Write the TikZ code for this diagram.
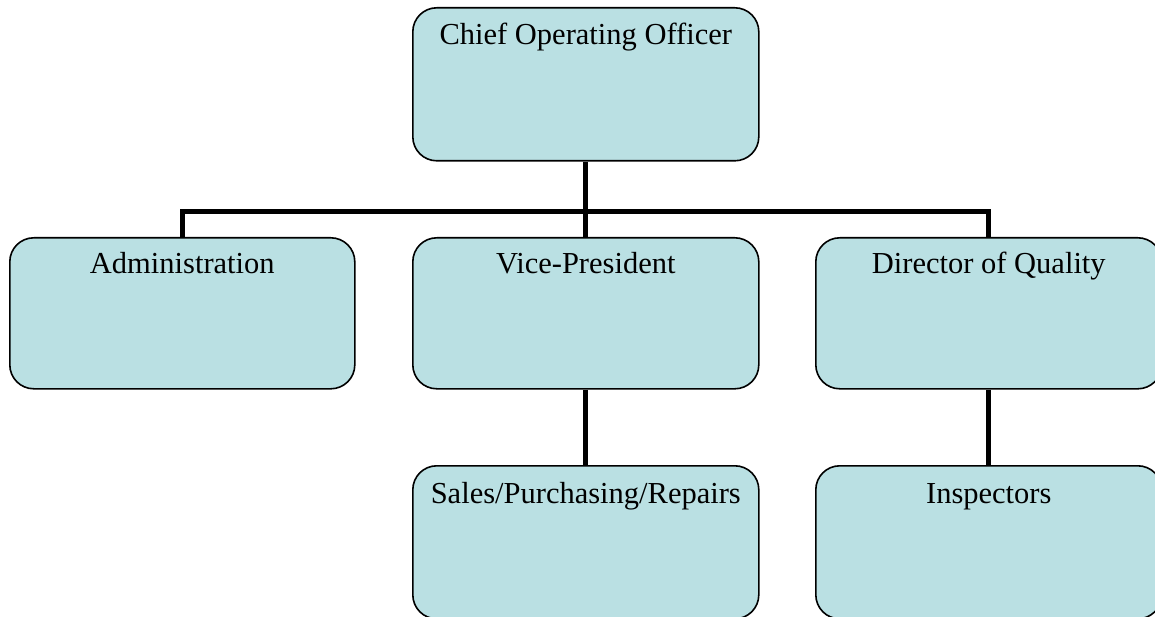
\documentclass[tikz,border=0pt]{standalone}
\usepackage{fontspec}
\setmainfont{Liberation Serif}
\definecolor{boxfill}{RGB}{186,224,227}
\begin{document}
\begin{tikzpicture}[x=1pt,y=1pt,
  orgbox/.style={draw=black, line width=1.6pt, fill=boxfill, rounded corners=24pt,
    inner sep=0pt, anchor=north west},
  boxtext/.style={anchor=base, font=\fontsize{30.5}{34}\selectfont, inner sep=0pt},
  conn/.style={line width=5pt, line join=miter}]
\useasboundingbox (0,0) rectangle (1155,-617);
\fill[white] (0,0) rectangle (1155,-617);
% boxes
\node[orgbox, minimum width=346pt, minimum height=153pt] (coo) at (412,-7) {};
\node[orgbox, minimum width=345pt, minimum height=151pt] (adm) at (9,-237) {};
\node[orgbox, minimum width=346pt, minimum height=151pt] (vp) at (412,-237) {};
\node[orgbox, minimum width=346pt, minimum height=151pt] (doq) at (815,-237) {};
\node[orgbox, minimum width=346pt, minimum height=153pt] (spr) at (412,-465) {};
\node[orgbox, minimum width=346pt, minimum height=153pt] (ins) at (815,-465) {};
% texts
\node[boxtext] (tcoo) at ([yshift=-38pt]coo.north) {Chief Operating Officer};
\node[boxtext] (tadm) at ([yshift=-36pt]adm.north) {Administration};
\node[boxtext] (tvp) at ([yshift=-36pt]vp.north) {Vice-President};
\node[boxtext] (tdoq) at ([yshift=-36pt]doq.north) {Director of Quality};
\node[boxtext] (tspr) at ([yshift=-38pt]spr.north) {Sales/Purchasing/Repairs};
\node[boxtext] (tins) at ([yshift=-38pt]ins.north) {Inspectors};
% connectors
\coordinate (bar) at (585,-212);
\draw[conn] (coo.south) -- (vp.north);
\draw[conn] (adm.north) |- (bar) -| (doq.north);
\draw[conn] (vp.south) -- (spr.north);
\draw[conn] (doq.south) -- (ins.north);
\end{tikzpicture}
\end{document}
